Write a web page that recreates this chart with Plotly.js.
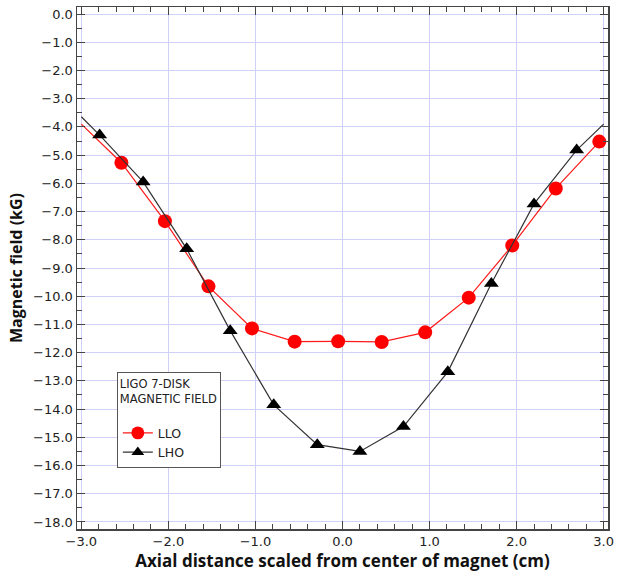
<!DOCTYPE html>
<html>
<head>
<meta charset="utf-8">
<script src="https://cdn.plot.ly/plotly-3.0.1.min.js"></script>
<style>html,body{margin:0;padding:0;background:#fff;}#chart{width:621px;height:582px;}</style>
</head>
<body>
<div id="chart"></div>
<script>
// LLO (red circles)
const lloX = [-3.0, -2.54, -2.04, -1.54, -1.04, -0.55, -0.05, 0.45, 0.95, 1.45, 1.95, 2.45, 2.95];
const lloY = [-3.9, -5.27, -7.34, -9.65, -11.14, -11.61, -11.6, -11.62, -11.28, -10.05, -8.2, -6.18, -4.52];
const lloMarked = [false, true, true, true, true, true, true, true, true, true, true, true, true];
// LHO (black triangles)
const lhoX = [-3.0, -2.79, -2.29, -1.79, -1.29, -0.79, -0.29, 0.2, 0.7, 1.21, 1.71, 2.2, 2.69, 3.0];
const lhoY = [-3.64, -4.29, -5.95, -8.32, -11.22, -13.85, -15.26, -15.5, -14.62, -12.68, -9.55, -6.73, -4.82, -3.9];
const lhoMarked = [false, true, true, true, true, true, true, true, true, true, true, true, true, false];
const legendTitle = "LIGO 7-DISK<br>MAGNETIC FIELD<br> ";
const xTitle = "Axial distance scaled from center of magnet (cm)";
const yTitle = "Magnetic field (kG)";

const traces = [
  {
    x: lloX, y: lloY, name: "LLO", type: "scatter", mode: "lines+markers",
    line: {color: "#ff1a1a", width: 1.2},
    marker: {symbol: "circle", color: "#ff0000", opacity: 1, size: lloMarked.map(m => m ? 14 : 0), line: {width: 0}}
  },
  {
    x: lhoX, y: lhoY, name: "LHO", type: "scatter", mode: "lines+markers",
    line: {color: "#333333", width: 1.2},
    marker: {symbol: "triangle-up", color: "#000000", opacity: 1, size: lhoMarked.map(m => m ? 13 : 0), line: {width: 0}}
  }
];

const axisCommon = {
  showline: true, linecolor: "#444", linewidth: 1.5, mirror: "allticks",
  ticks: "inside", ticklen: 8, tickwidth: 1, tickcolor: "#444",
  showgrid: true, gridcolor: "#cfcff8", gridwidth: 1, zeroline: false,
  tickfont: {family: "DejaVu Sans", size: 13, color: "#222"},
  tickformat: ".1f", ticklabeloverflow: "allow"
};

const layout = {
  width: 621, height: 582,
  margin: {l: 77, r: 13, t: 7, b: 53},
  paper_bgcolor: "#fff", plot_bgcolor: "#fff",
  showlegend: true,
  legend: {
    x: 0.075, y: 0.3, xanchor: "left", yanchor: "top",
    bgcolor: "#fff", bordercolor: "#555", borderwidth: 1,
    font: {family: "DejaVu Sans", size: 12.5, color: "#222"},
    title: {text: legendTitle, font: {family: "DejaVu Sans", size: 11.5, color: "#222"}},
    itemwidth: 30, tracegroupgap: 0
  },
  xaxis: Object.assign({}, axisCommon, {
    range: [-3.05, 3.05], dtick: 1, tick0: 0,
    minor: {dtick: 0.2, ticks: "inside", ticklen: 5, tickcolor: "#444", showgrid: false},
    title: {text: xTitle, standoff: 6, font: {family: "Open Sans", size: 17, color: "#111", weight: "bold"}}
  }),
  yaxis: Object.assign({}, axisCommon, {
    range: [-18.25, 0.25], dtick: 1, tick0: 0,
    minor: {dtick: 0.5, ticks: "inside", ticklen: 5, tickcolor: "#444", showgrid: false},
    title: {text: yTitle, standoff: 6, font: {family: "Open Sans", size: 16, color: "#111", weight: "bold"}}
  })
};

Plotly.newPlot("chart", traces, layout, {displayModeBar: false, staticPlot: true});
</script>
</body>
</html>
